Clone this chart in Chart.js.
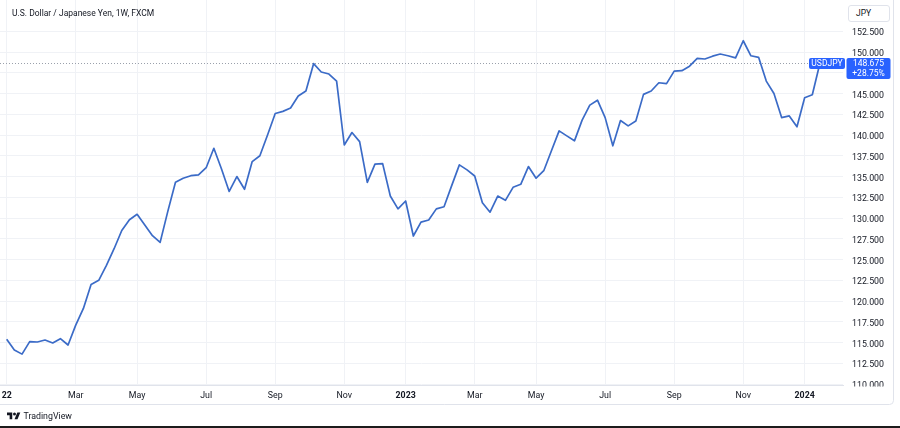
<!DOCTYPE html>
<html>
<head>
<meta charset="utf-8">
<script src="https://cdn.jsdelivr.net/npm/chart.js@4.4.1/dist/chart.umd.min.js"></script>
<style>
html,body{margin:0;padding:0;background:#fff;width:900px;height:428px;overflow:hidden;font-family:Roboto,"Noto Sans",sans-serif;}
#wrap{position:relative;width:900px;height:428px;}
#c{position:absolute;left:0;top:0;}
#title{position:absolute;left:12px;top:7px;font-size:8.5px;line-height:12px;color:#131722;white-space:nowrap;}
#cur{position:absolute;left:848px;top:5px;width:42px;height:17px;box-sizing:border-box;border:1px solid #e0e3eb;border-radius:3px;font-size:8.5px;color:#131722;line-height:15px;padding-left:7px;background:#fff;}
#logo{position:absolute;left:7px;top:410px;height:12px;display:flex;align-items:center;}
#logo span{font-size:8.8px;color:#131722;margin-left:3px;}
#edge{position:absolute;left:0;top:426px;width:900px;height:2px;background:#1c1c1c;}
</style>
</head>
<body>
<div id="wrap">
  <canvas id="c" width="900" height="428"></canvas>
  <div id="title">U.S. Dollar / Japanese Yen, 1W, FXCM</div>
  <div id="cur">JPY</div>
  <div id="logo"><svg width="13.5" height="10.5" viewBox="0 0 36 28"><path d="M14 22H7V11H0V4h14v18zM28 22h-8l7.5-18h8L28 22z" fill="#131722"/><circle cx="20" cy="8" r="4" fill="#131722"/></svg><span>TradingView</span></div>
  <div id="edge"></div>
</div>
<script>
// ---- data (weekly closes, USDJPY) ----
const symbol = 'USDJPY';
const changeText = '+28.75%';
const closes = [
  115.4, 114.1, 113.6, 115.1, 115.06, 115.3, 114.94, 115.46, 114.7, 117.1,
  119.1, 122.0, 122.5, 124.3, 126.3, 128.5, 129.8, 130.45, 129.16, 127.87,
  127.07, 130.8, 134.3, 134.8, 135.1, 135.2, 136.06, 138.4, 135.9, 133.2,
  135.0, 133.46, 136.8, 137.5, 140.0, 142.6, 142.85, 143.25, 144.7, 145.3,
  148.6, 147.6, 147.35, 146.5, 138.8, 140.3, 139.2, 134.3, 136.5, 136.55,
  132.65, 131.1, 132.05, 127.83, 129.5, 129.76, 131.1, 131.36, 133.9, 136.4,
  135.8, 135.06, 131.85, 130.7, 132.65, 132.13, 133.7, 134.06, 136.2, 134.8,
  135.7, 138.1, 140.5, 139.9, 139.3, 141.8, 143.6, 144.2, 142.1, 138.7,
  141.75, 141.1, 141.7, 144.9, 145.3, 146.3, 146.2, 147.7, 147.75, 148.3,
  149.24, 149.16, 149.5, 149.76, 149.55, 149.3, 151.36, 149.55, 149.36, 146.5,
  145.0, 142.1, 142.3, 141.0, 144.5, 144.85, 148.675
];
// week categories (week starting dates)
const weeks = [];
for (let i = 0; i < closes.length; i++) {
  const d = new Date(Date.UTC(2022, 0, 3 + 7 * i));
  weeks.push(d.toISOString().slice(0, 10));
}
// time-axis tick labels (week index of first bar of each labelled month)
const monthTickWeek  = [0, 9, 17, 26, 35, 44, 52, 61, 69, 78, 87, 96, 104];
const monthTickLabel = ['22', 'Mar', 'May', 'Jul', 'Sep', 'Nov', '2023', 'Mar', 'May', 'Jul', 'Sep', 'Nov', '2024'];
// price-axis tick values
const priceTicks = [110, 112.5, 115, 117.5, 120, 122.5, 125, 127.5, 130, 132.5, 135, 137.5, 140, 142.5, 145, 147.5, 150, 152.5];

const FONT = 'Roboto, "Noto Sans", sans-serif';
const GRID = '#f0f2f6';

function rr(ctx, x, y, w, h, r) {
  ctx.beginPath();
  ctx.moveTo(x + r, y);
  ctx.lineTo(x + w - r, y); ctx.quadraticCurveTo(x + w, y, x + w, y + r);
  ctx.lineTo(x + w, y + h - r); ctx.quadraticCurveTo(x + w, y + h, x + w - r, y + h);
  ctx.lineTo(x + r, y + h); ctx.quadraticCurveTo(x, y + h, x, y + h - r);
  ctx.lineTo(x, y + r); ctx.quadraticCurveTo(x, y, x + r, y);
  ctx.closePath();
}

const priceTag = {
  id: 'priceTag',
  beforeDatasetsDraw(chart) {
    const {ctx, chartArea: ca, scales: {y}} = chart;
    const py = Math.round(y.getPixelForValue(closes[closes.length - 1])) + 0.5;
    ctx.save();
    ctx.strokeStyle = '#9aa0ab';
    ctx.lineWidth = 1;
    ctx.setLineDash([1, 2]);
    ctx.beginPath(); ctx.moveTo(ca.left, py); ctx.lineTo(ca.right - 34, py); ctx.stroke();
    ctx.restore();
  },
  afterDraw(chart) {
    const {ctx, chartArea: ca, scales: {y}} = chart;
    const last = closes[closes.length - 1];
    const py = Math.round(y.getPixelForValue(last));
    ctx.save();
    // clip price labels below pane
    ctx.fillStyle = '#fff';
    ctx.fillRect(ca.right + 1, ca.bottom + 1.5, 48, 17);
    // container border
    ctx.strokeStyle = '#e0e3eb';
    ctx.lineWidth = 1;
    ctx.beginPath();
    ctx.moveTo(893.5, 0); ctx.lineTo(893.5, 400.5);
    ctx.quadraticCurveTo(893.5, 404.5, 889.5, 404.5);
    ctx.lineTo(0, 404.5);
    ctx.stroke();
    // symbol label & price label
    ctx.fillStyle = '#2962ff';
    rr(ctx, ca.right - 34, py - 5, 36, 11, 2); ctx.fill();
    rr(ctx, ca.right + 3.5, py - 5, 44, 21, 2); ctx.fill();
    ctx.fillStyle = '#fff';
    ctx.font = '8.5px ' + FONT;
    ctx.textAlign = 'center';
    ctx.textBaseline = 'middle';
    ctx.fillText(symbol, ca.right - 16, py + 1);
    ctx.fillText(last.toFixed(3), ca.right + 25.5, py + 1);
    ctx.fillText(changeText, ca.right + 25.5, py + 11);
    ctx.restore();
  }
};

new Chart(document.getElementById('c'), {
  type: 'line',
  data: {
    labels: weeks,
    datasets: [{
      label: symbol,
      data: closes.map((v, i) => ({x: i, y: v})),
      borderColor: '#3b6bc7',
      borderWidth: 1.7,
      pointRadius: 0,
      tension: 0,
      fill: false,
      borderJoinStyle: 'round'
    }]
  },
  options: {
    responsive: false,
    devicePixelRatio: 1,
    animation: false,
    layout: {padding: 0},
    plugins: {legend: {display: false}, tooltip: {enabled: false}, title: {display: false}},
    scales: {
      x: {
        type: 'linear',
        min: -0.87,
        max: 109.0,
        position: 'bottom',
        grid: {color: GRID, drawTicks: false, lineWidth: 1},
        border: {display: true, color: '#e0e3eb'},
        ticks: {
          autoSkip: false,
          maxRotation: 0,
          padding: 6,
          color: '#131722',
          font: (c) => ({family: FONT, size: 8.8, weight: /^\d+$/.test(monthTickLabel[c.index] || '') ? 'bold' : 'normal'}),
          callback: (v, i) => monthTickLabel[i]
        },
        afterBuildTicks: (s) => { s.ticks = monthTickWeek.map(v => ({value: v})); },
        afterFit: (s) => { s.height = 43; s.paddingLeft = 0; s.paddingRight = 0; s.paddingTop = 0; s.paddingBottom = 0; }
      },
      y: {
        type: 'linear',
        position: 'right',
        min: 109.88,
        max: 156.27,
        grid: {color: GRID, drawTicks: false, lineWidth: 1},
        border: {display: false},
        ticks: {
          padding: 9,
          labelOffset: 2,
          color: '#131722',
          font: {family: FONT, size: 8.8},
          callback: (v) => v.toFixed(3)
        },
        afterBuildTicks: (s) => { s.ticks = priceTicks.map(v => ({value: v})); },
        afterFit: (s) => { s.width = 57; s.paddingLeft = 0; s.paddingRight = 0; s.paddingTop = 0; s.paddingBottom = 0; }
      }
    }
  },
  plugins: [priceTag]
});
</script>
</body>
</html>
